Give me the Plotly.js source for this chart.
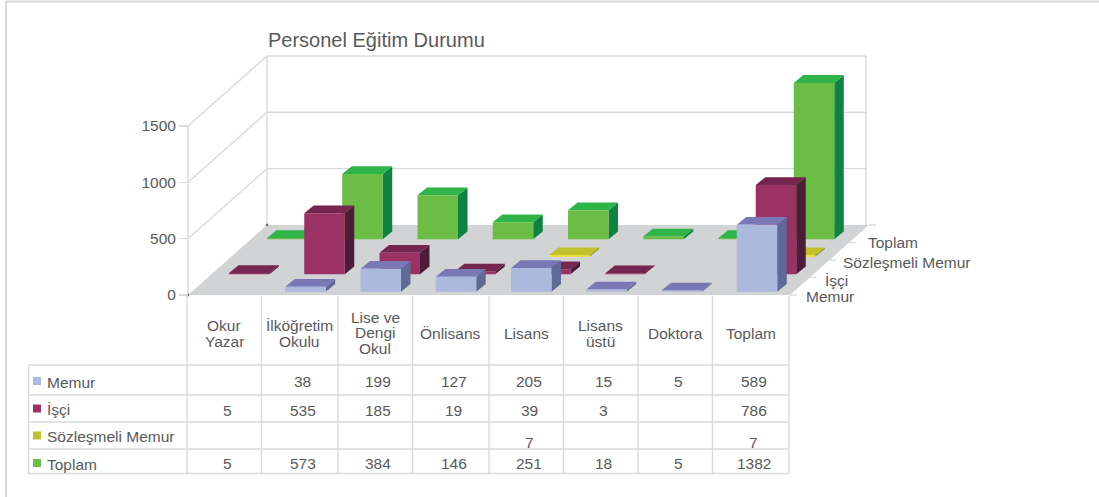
<!DOCTYPE html>
<html><head><meta charset="utf-8">
<script src="https://cdn.plot.ly/plotly-3.0.1.min.js"></script>
<style>html,body{margin:0;padding:0;background:#fff}#c{width:1099px;height:497px}</style></head>
<body><div id="c"></div>
<script>
// ---- data ----
const categories = [["Okur","Yazar"],["İlköğretim","Okulu"],["Lise ve","Dengi","Okul"],["Önlisans"],["Lisans"],["Lisans","üstü"],["Doktora"],["Toplam"]];
const seriesNames = ["Memur","İşçi","Sözleşmeli Memur","Toplam"];
const memur = [null,38,199,127,205,15,5,589];
const isci = [5,535,185,19,39,3,null,786];
const sozlesmeli = [null,null,null,null,7,null,null,7];
const toplam = [5,573,384,146,251,18,5,1382];
const valueTicks = [0,500,1000,1500];
const frontColors = ["#abb9de","#9a3363","#f2e61c","#6cbd45"];
const topColors = ["#7a77b6","#74264e","#c0bf2c","#2fb44a"];
const sideColors = ["#5f6b96","#4c1c38","#8f8f20","#0f8242"];
const swatchColors = ["#abb9de","#9a3363","#c0bf2c","#6cbd45"];

const series = [memur,isci,sozlesmeli,toplam];
// ---- geometry: oblique projection, everything in axis units ----
const W=1099,H=497,L=188,B=295;
const pxX=75.25, pxY=0.1127;      // px per category, px per value unit
const ux=p=>p/pxX, uy=p=>p/pxY;   // px -> axis units
const ax=p=>ux(p-L), ay=p=>uy(B-p); // page px -> axis position
const rowDX=ux(19), rowDY=uy(17.5);
const barW=ux(40.5), depthDX=ux(9.5), depthDY=uy(7.8);
const startX=ux(22), startY=uy(3.3);
const floorDX=ux(79), floorDY=uy(70);
const edge=5; // min visible thickness of a bar, value units
const GRID="#d9dadb", TXT="#58595b", FONT="'Liberation Sans', Arial, sans-serif";
const TS=15.5;

const traces=[];
function poly(xs,ys,color){traces.push({type:"scatter",mode:"lines",x:xs,y:ys,fill:"toself",fillcolor:color,line:{width:0,color:color},hoverinfo:"skip",showlegend:false});}
function path(xs,ys,color,w){traces.push({type:"scatter",mode:"lines",x:xs,y:ys,line:{width:w,color:color},hoverinfo:"skip",showlegend:false});}

// walls
const n=categories.length, wallTop=valueTicks[valueTicks.length-1], wallEnd=floorDX+n-ux(3);
const wx=[],wy=[];
valueTicks.slice(1).forEach(v=>{wx.push(0,floorDX,wallEnd,null);wy.push(v,v+floorDY,v+floorDY,null);});
wx.push(0,0,null,floorDX,floorDX,null,wallEnd,wallEnd,null);
wy.push(0,wallTop,null,floorDY,wallTop+floorDY,null,floorDY,wallTop+floorDY,null);
path(wx,wy,GRID,1.4);
// floor
poly([0,n,n+floorDX,floorDX,0],[0,0,floorDY,floorDY,0],"#d1d3d4");
// depth ticks
const tx=[],ty=[];
for(let r=0;r<=4;r++){tx.push(n+r*floorDX/4,n+r*floorDX/4+ux(7),null);ty.push(r*floorDY/4,r*floorDY/4,null);}
path(tx,ty,GRID,1.4);
// corner dots
traces.push({type:"scatter",mode:"markers",x:[floorDX,0],y:[floorDY,0],marker:{symbol:"square",size:2.5,color:"#777"},hoverinfo:"skip",showlegend:false});

// bars, back row first
for(let r=3;r>=0;r--){
  const fx=[],fy=[],tx2=[],ty2=[],sx=[],sy=[];
  series[r].forEach((v,i)=>{
    if(v===null)return;
    const x0=i+startX+r*rowDX, x1=x0+barW, y0=startY+r*rowDY, y1=y0+v+edge;
    fx.push(x0,x1,x1,x0,x0,null); fy.push(y0,y0,y1,y1,y0,null);
    tx2.push(x0,x1,x1+depthDX,x0+depthDX,x0,null); ty2.push(y1,y1,y1+depthDY,y1+depthDY,y1,null);
    sx.push(x1,x1+depthDX,x1+depthDX,x1,x1,null); sy.push(y0,y0+depthDY,y1+depthDY,y1,y0,null);
  });
  poly(sx,sy,sideColors[r]); poly(tx2,ty2,topColors[r]); poly(fx,fy,frontColors[r]);
}

// ---- table ----
const colX=[187,261.5,338,412.5,489,563.5,638,712.5,789];
const rowY=[365,395,422,449,473.5];
const tableLeft=28.5;
const shapes=[], annotations=[];
function seg(x0,y0,x1,y1,w){shapes.push({type:"line",xref:"x",yref:"y",x0:ax(x0),y0:ay(y0),x1:ax(x1),y1:ay(y1),line:{color:GRID,width:w||1.4},layer:"above"});}
function txt(s,x,y,anchor,size){annotations.push({text:s,xref:"x",yref:"y",x:ax(x),y:ay(y),xanchor:anchor,yanchor:"middle",showarrow:false,align:"center",font:{family:FONT,size:size,color:TXT}});}
colX.forEach(x=>seg(x,296,x,rowY[4]));
rowY.forEach(y=>seg(tableLeft,y,colX[8],y));
seg(tableLeft,rowY[0],tableLeft,rowY[4]);
// frame
seg(6,1.5,W,1.5,2); seg(6,1,6,H,2);

const catTop=[325,325,317,333.5,333.5,325,333.5,333.5];
const catStep=[16,16,15.5,0,0,16.5,0,0];
categories.forEach((c,i)=>c.forEach((s,k)=>txt(s,(colX[i]+colX[i+1])/2,catTop[i]+k*catStep[i],"center",TS)));
const rowTextY=[381,410,442,463];
const nameY=[381,408.5,435.5,463];
series.forEach((s,r)=>{
  shapes.push({type:"rect",xref:"x",yref:"y",x0:ax(33),x1:ax(41),y0:ay(nameY[r]-4),y1:ay(nameY[r]+4),fillcolor:swatchColors[r],line:{width:0}});
  txt(seriesNames[r],44.5,nameY[r]+1,"left",TS);
  s.forEach((v,i)=>{ if(v!==null) txt(String(v),(colX[i]+colX[i+1])/2+3,rowTextY[r],"center",TS); });
});
// depth labels
[[830,296.5],[836,280],[906,262.5],[893,242.5]].forEach((d,i)=>txt(seriesNames[i],d[0],d[1],"center",TS));

Plotly.newPlot("c",traces,{
  width:W,height:H,showlegend:false,paper_bgcolor:"#fff",plot_bgcolor:"rgba(0,0,0,0)",
  margin:{l:0,r:0,t:0,b:0,pad:0},
  title:{text:"Personel Eğitim Durumu",font:{family:FONT,size:20,color:TXT},x:268/W,xanchor:"left",y:1-40/H,yanchor:"middle"},
  xaxis:{range:[ax(0),ax(W)],visible:false,fixedrange:true,domain:[0,1]},
  yaxis:{range:[ay(H),ay(0)],anchor:"free",position:L/W,tickmode:"array",tickvals:valueTicks,ticktext:valueTicks.map(String),ticks:"outside",ticklen:9,tickcolor:GRID,tickwidth:1.4,
         showgrid:false,zeroline:false,showline:false,tickfont:{family:FONT,size:15.5,color:TXT},fixedrange:true,automargin:false},
  shapes:shapes,annotations:annotations
},{displayModeBar:false,staticPlot:true});
</script></body></html>
